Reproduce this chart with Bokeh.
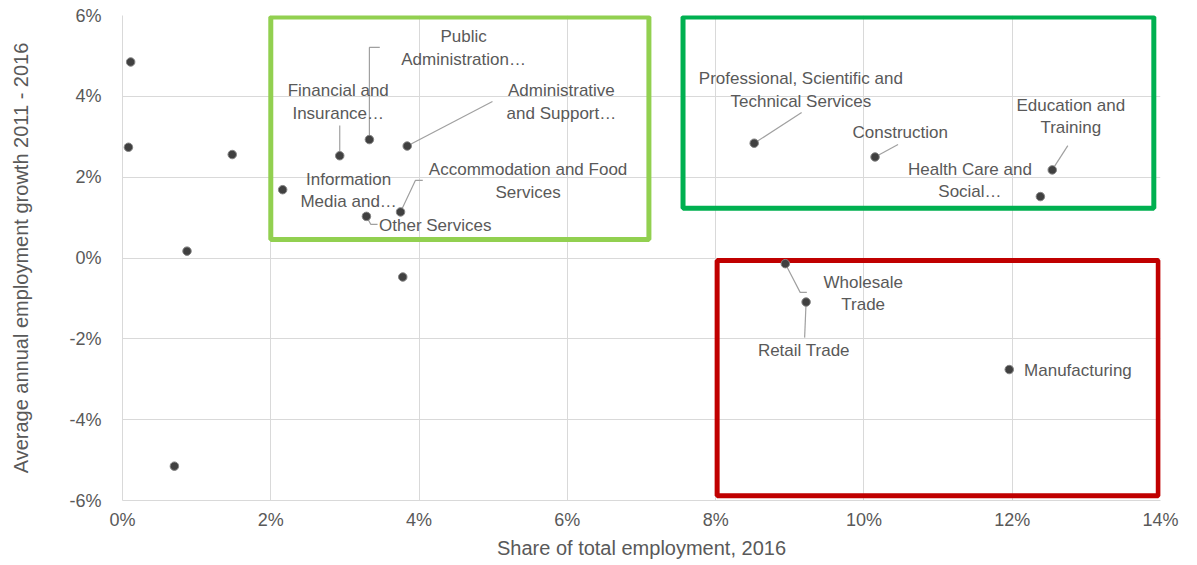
from bokeh.plotting import figure
from bokeh.models import Range1d, FixedTicker, PrintfTickFormatter, ColumnDataSource
from bokeh.core.properties import value
from bokeh.embed import file_html
from bokeh.resources import INLINE

# ---- data (percent units) ----
industries = ["", "", "", "", "",
              "Information\nMedia and…", "Financial and\nInsurance…", "Public\nAdministration…",
              "Administrative\nand Support…", "Other Services", "Accommodation and Food\nServices", "",
              "Professional, Scientific and\nTechnical Services", "Construction", "Education and\nTraining",
              "Health Care and\nSocial…", "Wholesale\nTrade", "Retail Trade", "Manufacturing"]
share_2016 = [0.11, 0.08, 1.48, 0.87, 0.70,
              2.16, 2.93, 3.33,
              3.84, 3.29, 3.75, 3.78,
              8.52, 10.15, 12.54,
              12.38, 8.94, 9.22, 11.96]
growth_2011_2016 = [4.85, 2.74, 2.56, 0.17, -5.15,
                    1.69, 2.53, 2.93,
                    2.77, 1.03, 1.14, -0.47,
                    2.84, 2.50, 2.18,
                    1.52, -0.14, -1.09, -2.76]

x_ticks = [0, 2, 4, 6, 8, 10, 12, 14]
y_ticks = [-6, -4, -2, 0, 2, 4, 6]

# ---- annotation layout (data coordinates) ----
box_left = [2.00, 7.56, 8.02]
box_right = [7.10, 13.91, 13.97]
box_top = [5.96, 5.96, -0.06]
box_bottom = [0.46, 1.23, -5.88]
box_colors = ["#92D050", "#00B050", "#C00000"]

# label position: (x, y, align)
label_pos = {
    "Information\nMedia and…": (3.05, 1.67, "center"),
    "Financial and\nInsurance…": (2.91, 3.85, "center"),
    "Public\nAdministration…": (4.60, 5.19, "center"),
    "Administrative\nand Support…": (5.92, 3.85, "center"),
    "Other Services": (3.46, 0.80, "left"),
    "Accommodation and Food\nServices": (5.47, 1.90, "center"),
    "Professional, Scientific and\nTechnical Services": (9.15, 4.15, "center"),
    "Construction": (10.49, 3.11, "center"),
    "Education and\nTraining": (12.79, 3.50, "center"),
    "Health Care and\nSocial…": (11.43, 1.92, "center"),
    "Wholesale\nTrade": (9.99, -0.88, "center"),
    "Retail Trade": (9.19, -2.29, "center"),
    "Manufacturing": (12.16, -2.78, "left"),
}
# leader-line bends after the point
leader_pts = {
    "Financial and\nInsurance…": [(2.93, 3.28)],
    "Public\nAdministration…": [(3.33, 5.21), (3.47, 5.21)],
    "Administrative\nand Support…": [(4.99, 3.87)],
    "Accommodation and Food\nServices": [(3.95, 1.92), (4.05, 1.92)],
    "Other Services": [(3.35, 0.83), (3.44, 0.83)],
    "Professional, Scientific and\nTechnical Services": [(9.16, 3.60)],
    "Construction": [(10.46, 2.81)],
    "Education and\nTraining": [(12.75, 2.78)],
    "Wholesale\nTrade": [(9.14, -0.85), (9.23, -0.85)],
    "Retail Trade": [(9.20, -1.97)],
}

FONT = "Liberation Sans"
GREY = "#595959"

p = figure(width=1190, height=565, output_backend="svg", toolbar_location=None,
           x_range=Range1d(0, 14), y_range=Range1d(-6, 6),
           min_border_left=122, min_border_right=30, min_border_top=15, min_border_bottom=65)
p.outline_line_color = None
p.background_fill_color = "white"
p.border_fill_color = "white"

for ax in (p.xaxis[0], p.yaxis[0]):
    ax.formatter = PrintfTickFormatter(format="%d%%")
    ax.major_tick_line_color = None
    ax.minor_tick_line_color = None
    ax.axis_line_color = "#D9D9D9"
    ax.major_label_text_font = FONT
    ax.major_label_text_font_size = "18px"
    ax.major_label_text_color = GREY
    ax.axis_label_text_font = FONT
    ax.axis_label_text_font_size = "20px"
    ax.axis_label_text_font_style = "normal"
    ax.axis_label_text_color = GREY

p.xaxis.ticker = FixedTicker(ticks=x_ticks)
p.yaxis.ticker = FixedTicker(ticks=y_ticks)
p.xaxis.axis_label = "Share of total employment, 2016"
p.yaxis.axis_label = "Average annual employment growth 2011 - 2016"
p.xaxis.major_label_standoff = 3
p.xaxis.axis_label_standoff = 4
p.yaxis.major_label_standoff = 15
p.yaxis.axis_label_standoff = 34

p.xgrid.ticker = FixedTicker(ticks=x_ticks)
p.ygrid.ticker = FixedTicker(ticks=y_ticks)
for g in (p.xgrid[0], p.ygrid[0]):
    g.grid_line_color = "#D9D9D9"
    g.grid_line_width = 1

# boxes
p.quad(left=box_left, right=box_right, top=box_top, bottom=box_bottom,
       fill_color=None, line_color=box_colors, line_width=5)

# leader lines
xs, ys = [], []
for name, bends in leader_pts.items():
    i = industries.index(name)
    xs.append([share_2016[i]] + [b[0] for b in bends])
    ys.append([growth_2011_2016[i]] + [b[1] for b in bends])
p.multi_line(xs=xs, ys=ys, line_color="#A0A0A0", line_width=1.2)

# points
p.scatter(x=share_2016, y=growth_2011_2016, size=8.5, fill_color="#404040",
          line_color="#858585", line_width=1)

# labels
for align in ("center", "left"):
    names = [n for n in industries if n and label_pos[n][2] == align]
    src = ColumnDataSource(dict(x=[label_pos[n][0] for n in names],
                                y=[label_pos[n][1] for n in names], t=names))
    p.text(x="x", y="y", text="t", source=src, text_align=align, text_baseline="middle",
           text_font=value(FONT), text_font_size="17px", text_color=GREY,
           text_line_height=1.2)

open("out.html", "w").write(file_html(p, INLINE))
